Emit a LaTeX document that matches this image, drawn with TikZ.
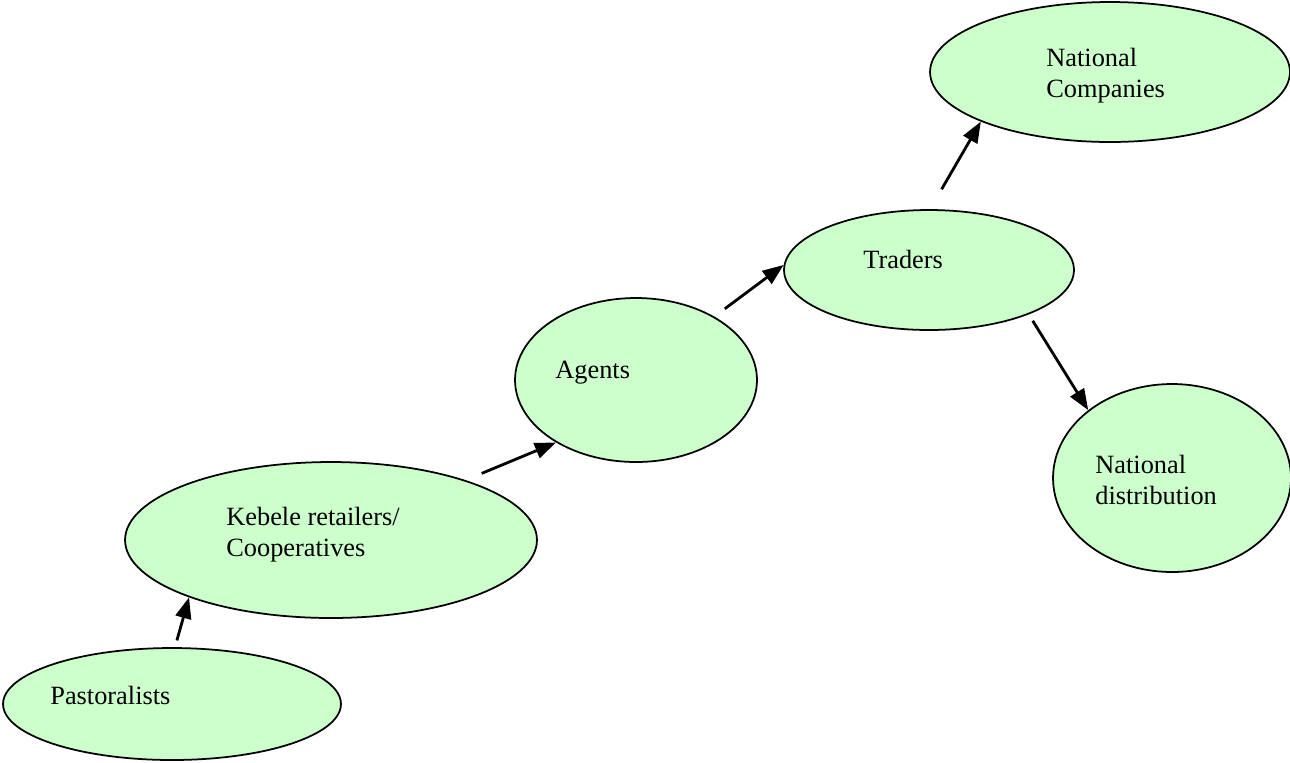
\documentclass[tikz,border=0pt]{standalone}
\usepackage{fontspec}
\setmainfont{Liberation Serif}
\usetikzlibrary{shapes.geometric, arrows.meta}
\definecolor{palegreen}{HTML}{CCFFCC}

\begin{document}
\begin{tikzpicture}[x=0.02cm, y=-0.02cm,
    blob/.style={ellipse, draw, line width=1pt, fill=palegreen, inner sep=0pt},
    lbl/.style={anchor=base west, align=left, inner sep=0pt, font=\fontsize{15}{17.6}\selectfont},
    flow/.style={-{Triangle[length=12pt, width=9pt]}, line width=1.6pt}]

  \useasboundingbox (0,0) rectangle (1290,762);

  % the market actors
  \node[blob, minimum width=6.76cm, minimum height=2.24cm] (past) at (172,704) {};
  \node[blob, minimum width=8.24cm, minimum height=3.12cm] (keb) at (331,540) {};
  \node[blob, minimum width=4.84cm, minimum height=3.28cm] (agents) at (636,380) {};
  \node[blob, minimum width=5.8cm, minimum height=2.4cm] (traders) at (929,270) {};
  \node[blob, minimum width=7.2cm, minimum height=2.8cm] (nc) at (1110,72) {};
  \node[blob, minimum width=4.76cm, minimum height=3.76cm] (nd) at (1172,478) {};

  \node[lbl] (pastlbl) at (50,704) {Pastoralists};
  \node[lbl] (keblbl) at (226,556) {Kebele retailers/\\Cooperatives};
  \node[lbl] (agentslbl) at (555,378) {Agents};
  \node[lbl] (traderslbl) at (863,268) {Traders};
  \node[lbl] (nclbl) at (1046,97) {National\\Companies};
  \node[lbl] (ndlbl) at (1095,504) {National\\distribution};

  % flow of the product
  \draw[flow, shorten <=0.14cm] (past.87) -- (keb.202);
  \draw[flow, shorten <=0.35cm] (keb.24) -- (agents.218);
  \draw[flow, shorten <=0.26cm] (agents.39) -- (traders.178);
  \draw[flow, shorten <=0.46cm] (traders.89) -- (nc.201);
  \draw[flow, shorten <=0.15cm] (traders.336) -- (nd.141);

\end{tikzpicture}
\end{document}
